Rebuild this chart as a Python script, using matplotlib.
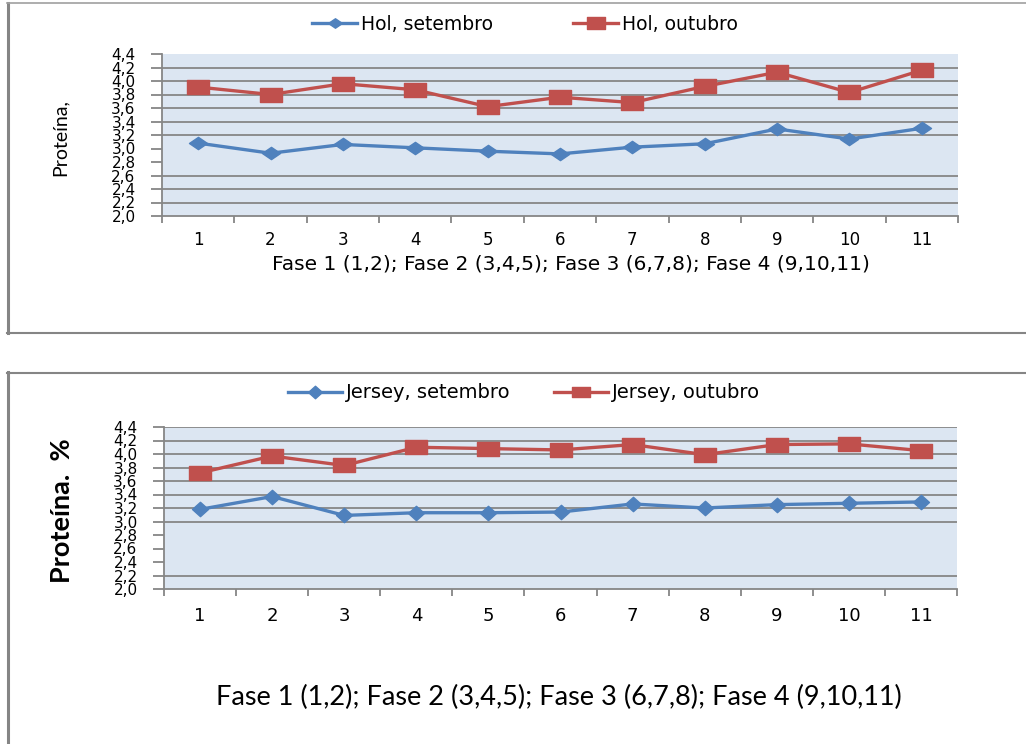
import numpy as np
import matplotlib
matplotlib.use("Agg")
import matplotlib.pyplot as plt
from matplotlib.path import Path
from matplotlib.lines import Line2D

plt.rcParams["font.family"] = ["DejaVu Sans"]

# protein (%) per collection, Holandesa and Jersey herds
coletas = [1, 2, 3, 4, 5, 6, 7, 8, 9, 10, 11]
hol_set = [3.08, 2.93, 3.06, 3.01, 2.96, 2.92, 3.02, 3.07, 3.29, 3.14, 3.30]
hol_out = [3.91, 3.80, 3.96, 3.87, 3.62, 3.76, 3.68, 3.92, 4.13, 3.83, 4.16]
jer_set = [3.18, 3.37, 3.09, 3.13, 3.13, 3.14, 3.26, 3.20, 3.25, 3.27, 3.29]
jer_out = [3.72, 3.97, 3.83, 4.10, 4.08, 4.06, 4.14, 3.99, 4.14, 4.15, 4.05]

fase_txt = "Fase 1 (1,2); Fase 2 (3,4,5); Fase 3 (6,7,8); Fase 4 (9,10,11)"
yticks = np.round(np.arange(2.0, 4.41, 0.2), 1)

AZUL = "#4F81BD"
VERM = "#C0504D"
FUNDO = "#DCE6F2"
CINZA = "#868686"
BORDA = "#858585"

W, H = 1026, 744
fig = plt.figure(figsize=(W / 100, H / 100), dpi=100)


def px_axes(x0, y0, x1, y1):
    return fig.add_axes([x0 / W, 1 - y1 / H, (x1 - x0) / W, (y1 - y0) / H])


def wide_marker(kind, aspect):
    # flattened square / diamond markers
    if kind == "s":
        v = [(-1, -aspect), (1, -aspect), (1, aspect), (-1, aspect), (-1, -aspect)]
    else:
        v = [(-1, 0), (0, -aspect), (1, 0), (0, aspect), (-1, 0)]
    codes = [Path.MOVETO] + [Path.LINETO] * 3 + [Path.CLOSEPOLY]
    return Path(v, codes)


def painel(ax, s1, s2, grid_levels, mk):
    ax.set_facecolor(FUNDO)
    for lv in grid_levels:
        ax.axhline(lv, color=CINZA, lw=1.3, zorder=1)
    ax.plot(coletas, s1, color=AZUL, lw=2.4, marker=mk["d"], ms=mk["ds"],
            mfc=AZUL, mec=AZUL, zorder=3)
    ax.plot(coletas, s2, color=VERM, lw=2.4, marker=mk["s"], ms=mk["ss"],
            mfc=VERM, mec=VERM, zorder=3)
    ax.set_xlim(0.5, 11.5)
    ax.set_ylim(2.0, 4.4)
    for side in ("top", "right"):
        ax.spines[side].set_visible(False)
    for side in ("left", "bottom"):
        ax.spines[side].set_color(CINZA)
        ax.spines[side].set_linewidth(1.3)
    ax.set_xticks(np.arange(0.5, 12, 1))
    ax.set_xticklabels([])
    ax.set_xticks(coletas, minor=True)
    ax.tick_params(axis="x", which="major", length=5, width=1.3, color=CINZA)
    ax.tick_params(axis="x", which="minor", length=0)
    ax.set_yticks(yticks)
    ax.set_yticklabels([f"{v:.1f}".replace(".", ",") for v in yticks])
    ax.tick_params(axis="y", length=8, width=1.3, color=CINZA, pad=11)
    for t in ax.get_yticklabels():
        t.set_fontsize(11)


# ---------------- Holandesa ----------------
fig.add_artist(Line2D([8 / W, 8 / W], [1 - 3 / H, 1 - 333 / H], color=BORDA, lw=2.2))
fig.add_artist(Line2D([7 / W, 1], [1 - 3 / H, 1 - 3 / H], color="#a0a0a0", lw=1.2))
fig.add_artist(Line2D([7 / W, 1], [1 - 333 / H, 1 - 333 / H], color=BORDA, lw=1.5))

ax1 = px_axes(162, 54, 958, 216)
mk1 = {"d": wide_marker("d", 0.68), "ds": 13, "s": wide_marker("s", 0.62), "ss": 15.5}
painel(ax1, hol_set, hol_out, [2.2, 2.4, 2.6, 3.2, 3.4, 3.6, 3.8, 4.0, 4.2], mk1)
ax1.set_xticklabels([str(c) for c in coletas], minor=True, fontsize=12)
ax1.tick_params(axis="x", which="minor", pad=11)
ax1.set_xlabel(fase_txt, fontsize=14.5)
ax1.xaxis.set_label_coords(0.514, -0.24)
fig.text(60 / W, 1 - 138 / H, "Proteína,", rotation=90, ha="center", va="center",
         fontsize=14, family=["Lato", "DejaVu Sans"])

h1 = [Line2D([], [], color=AZUL, lw=2.4, marker=mk1["d"], ms=10),
      Line2D([], [], color=VERM, lw=2.4, marker=mk1["s"], ms=13)]
fig.legend(h1, ["Hol, setembro", "Hol, outubro"], loc="center",
           bbox_to_anchor=(525 / W, 1 - 24 / H), ncol=2, frameon=False,
           fontsize=13.5, handlelength=2.4, handletextpad=0.2, columnspacing=4.3)

# ---------------- Jersey ----------------
fig.add_artist(Line2D([8 / W, 8 / W], [1 - 372 / H, 0], color=BORDA, lw=2.2))
fig.add_artist(Line2D([7 / W, 1], [1 - 373 / H, 1 - 373 / H], color=BORDA, lw=1.5))

ax2 = px_axes(164, 427, 957, 589)
mk2 = {"d": wide_marker("d", 0.9), "ds": 11.5, "s": wide_marker("s", 0.6), "ss": 16}
painel(ax2, jer_set, jer_out, [2.2, 3.0, 3.2, 3.4, 3.6, 3.8, 4.0, 4.2, 4.4], mk2)
ax2.set_xticklabels([str(c) for c in coletas], minor=True, fontsize=13)
ax2.tick_params(axis="x", which="minor", pad=13)
fig.text(559 / W, 1 - 697 / H, fase_txt, ha="center", va="center",
         fontsize=19.5, family=["Lato", "DejaVu Sans"])
fig.text(62 / W, 1 - 511 / H, "Proteína.  %", rotation=90, ha="center", va="center",
         fontsize=19.5, fontweight="bold", family=["Lato", "DejaVu Sans"])

h2 = [Line2D([], [], color=AZUL, lw=2.4, marker=mk2["d"], ms=10),
      Line2D([], [], color=VERM, lw=2.4, marker=mk2["s"], ms=13)]
fig.legend(h2, ["Jersey, setembro", "Jersey, outubro"], loc="center",
           bbox_to_anchor=(524 / W, 1 - 393 / H), ncol=2, frameon=False,
           fontsize=14, handlelength=2.8, handletextpad=0.2, columnspacing=2.2)

fig.savefig("out.png", dpi=100)
